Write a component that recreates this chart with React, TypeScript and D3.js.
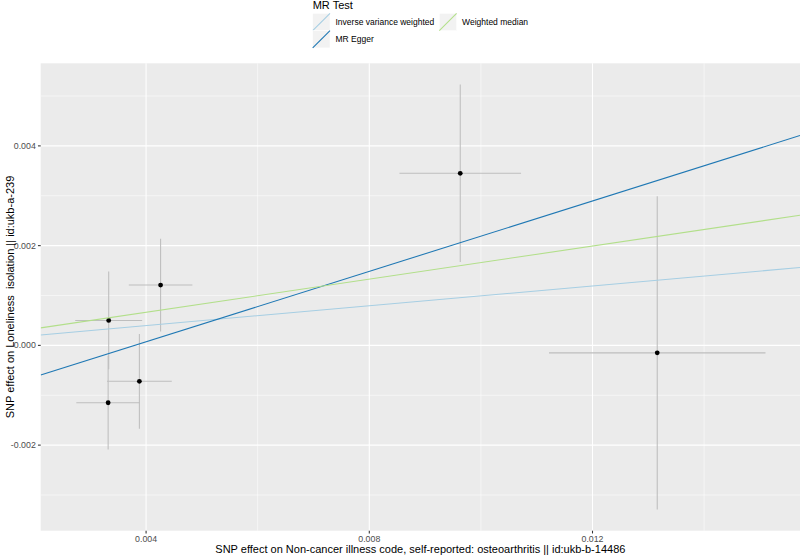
import React from 'react';
import * as d3 from 'd3';

// SNP effects (exposure on x, outcome on y) with standard errors
const snpBetaX = [0.00333, 0.00332, 0.00388, 0.00426, 0.00963, 0.01316];
const snpSeX = [0.0006, 0.00057, 0.00058, 0.00057, 0.00109, 0.00194];
const snpBetaY = [0.0005, -0.00115, -0.00072, 0.00121, 0.00345, -0.00015];
const snpSeY = [0.00098, 0.00094, 0.00095, 0.00093, 0.00178, 0.00314];

// MR estimates
const methods = ['Inverse variance weighted', 'MR Egger', 'Weighted median'];
const methodSlopes = [0.0993, 0.353, 0.166];
const methodIntercepts = [0, -0.00134, 0];
const methodColors = ['#A6CEE3', '#1F78B4', '#B2DF8A'];

const xTicks = [0.004, 0.008, 0.012];
const xMinor = [0.006, 0.01, 0.014];
const yTicks = [-0.002, 0, 0.002, 0.004];
const yMinor = [-0.003, -0.001, 0.001, 0.003, 0.005];

const xTitle = 'SNP effect on Non-cancer illness code, self-reported: osteoarthritis || id:ukb-b-14486';
const yTitle = 'SNP effect on Loneliness  isolation || id:ukb-a-239';

const W = 800;
const H = 556;
const panel = { left: 40.7, right: 800, top: 63.3, bottom: 530.7 };
const font = '"Liberation Sans", Arial, Helvetica, sans-serif';

// ggplot-like 5% expansion
const expand = (lo: number, hi: number) => {
  const pad = (hi - lo) * 0.05;
  return [lo - pad, hi + pad];
};

const App = () => {
  const xLo = d3.min(snpBetaX.map((d, i) => d - snpSeX[i])) as number;
  const xHi = d3.max(snpBetaX.map((d, i) => d + snpSeX[i])) as number;
  const yLo = d3.min(snpBetaY.map((d, i) => d - snpSeY[i])) as number;
  const yHi = d3.max(snpBetaY.map((d, i) => d + snpSeY[i])) as number;

  const x = d3.scaleLinear().domain(expand(xLo, xHi)).range([panel.left, panel.right]);
  const y = d3.scaleLinear().domain(expand(yLo, yHi)).range([panel.bottom, panel.top]);
  const [x0, x1] = x.domain();

  // plain hyphen for negatives, like R
  const fmt = (v: number) => d3.format('.3f')(v).replace('\u2212', '-');
  const pw = panel.right - panel.left;
  const ph = panel.bottom - panel.top;

  // legend layout
  const keySize = 17.3;
  const legX = 312.7;
  const legY = 13.3;
  const legendItems = [
    { col: 0, row: 0, m: 0 },
    { col: 0, row: 1, m: 1 },
    { col: 1, row: 0, m: 2 },
  ];
  const colX = [legX, 439.3];

  return (
    <svg width={W} height={H} style={{ position: 'absolute', left: 0, top: 0, fontFamily: font }}>
      <rect x={0} y={0} width={W} height={H} fill="#fff" />
      <defs>
        <clipPath id="panel-clip">
          <rect x={panel.left} y={panel.top} width={pw} height={ph} />
        </clipPath>
      </defs>
      <rect x={panel.left} y={panel.top} width={pw} height={ph} fill="#EBEBEB" />

      {/* grid */}
      {xMinor.map(v => (
        <line key={'xm' + v} x1={x(v)} x2={x(v)} y1={panel.top} y2={panel.bottom} stroke="#fff" strokeWidth={0.53} />
      ))}
      {yMinor.map(v => (
        <line key={'ym' + v} x1={panel.left} x2={panel.right} y1={y(v)} y2={y(v)} stroke="#fff" strokeWidth={0.53} />
      ))}
      {xTicks.map(v => (
        <line key={'xg' + v} x1={x(v)} x2={x(v)} y1={panel.top} y2={panel.bottom} stroke="#fff" strokeWidth={1.07} />
      ))}
      {yTicks.map(v => (
        <line key={'yg' + v} x1={panel.left} x2={panel.right} y1={y(v)} y2={y(v)} stroke="#fff" strokeWidth={1.07} />
      ))}

      <g clipPath="url(#panel-clip)">
        {/* error bars */}
        {snpBetaX.map((bx, i) => (
          <g key={'e' + i} stroke="#BEBEBE" strokeWidth={1.07}>
            <line x1={x(bx)} x2={x(bx)} y1={y(snpBetaY[i] - snpSeY[i])} y2={y(snpBetaY[i] + snpSeY[i])} />
            <line x1={x(bx - snpSeX[i])} x2={x(bx + snpSeX[i])} y1={y(snpBetaY[i])} y2={y(snpBetaY[i])} />
          </g>
        ))}
        {snpBetaX.map((bx, i) => (
          <circle key={'p' + i} cx={x(bx)} cy={y(snpBetaY[i])} r={2.4} fill="#000" />
        ))}
        {/* MR fit lines */}
        {methods.map((m, i) => (
          <line
            key={m}
            x1={x(x0)}
            y1={y(methodIntercepts[i] + methodSlopes[i] * x0)}
            x2={x(x1)}
            y2={y(methodIntercepts[i] + methodSlopes[i] * x1)}
            stroke={methodColors[i]}
            strokeWidth={1.07}
          />
        ))}
      </g>

      {/* x axis */}
      {xTicks.map(v => (
        <g key={'xt' + v}>
          <line x1={x(v)} x2={x(v)} y1={panel.bottom} y2={panel.bottom + 2.75} stroke="#333" strokeWidth={1.07} />
          <text x={x(v)} y={panel.bottom + 11.5} textAnchor="middle" fontSize={8.8} fill="#4D4D4D">
            {fmt(v)}
          </text>
        </g>
      ))}
      {/* y axis */}
      {yTicks.map(v => (
        <g key={'yt' + v}>
          <line x1={panel.left - 2.75} x2={panel.left} y1={y(v)} y2={y(v)} stroke="#333" strokeWidth={1.07} />
          <text x={panel.left - 4.9} y={y(v)} dy="0.35em" textAnchor="end" fontSize={8.8} fill="#4D4D4D">
            {fmt(v)}
          </text>
        </g>
      ))}

      <text x={(panel.left + panel.right) / 2} y={553} textAnchor="middle" fontSize={11} fill="#000">
        {xTitle}
      </text>
      <text
        transform={`translate(14,${(panel.top + panel.bottom) / 2}) rotate(-90)`}
        textAnchor="middle"
        fontSize={11}
        fill="#000"
        style={{ whiteSpace: 'pre' }}
      >
        {yTitle}
      </text>

      {/* legend */}
      <text x={legX} y={9} fontSize={11} fill="#000">
        MR Test
      </text>
      {legendItems.map(it => {
        const kx = colX[it.col];
        const ky = legY + it.row * keySize;
        return (
          <g key={'lg' + it.m}>
            <rect x={kx} y={ky} width={keySize} height={keySize} fill="#F2F2F2" stroke="#fff" strokeWidth={0.5} />
            <line x1={kx} y1={ky + keySize} x2={kx + keySize} y2={ky} stroke={methodColors[it.m]} strokeWidth={1.07} />
            <text x={kx + keySize + 5.5} y={ky + keySize / 2} dy="0.35em" fontSize={8.5} fill="#000">
              {methods[it.m]}
            </text>
          </g>
        );
      })}
    </svg>
  );
};

export default App;
